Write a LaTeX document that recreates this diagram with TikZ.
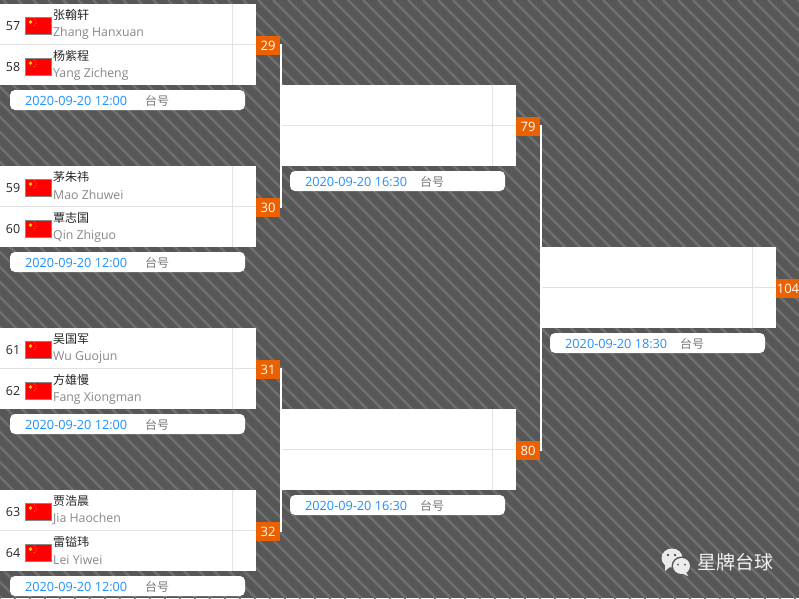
\documentclass[tikz,border=0pt]{standalone}
\usepackage{fontspec}
\setmainfont{Open Sans}
\newfontfamily\cjk{Noto Sans CJK SC}
\definecolor{bgdark}{HTML}{575757}
\definecolor{bgstripe}{HTML}{626262}
\definecolor{bgstripecore}{HTML}{757575}
\definecolor{orangebox}{HTML}{EB6100}
\definecolor{gridline}{HTML}{E2E2E2}
\definecolor{datecol}{HTML}{1E90FF}
\definecolor{greytext}{HTML}{888888}
\definecolor{tablecol}{HTML}{777777}
\definecolor{staryellow}{HTML}{FFD000}
\newcommand{\playerrow}[5]{% y-centre, seed, cjk name, pinyin, id
  \node[seedtext] (seed#5) at (13,#1) {#2};
  \node[flagbox] (flag#5) at (38.5,#1) {};
  \fill[staryellow] (30.5,#1-4) circle (1.9);
  \fill[staryellow!60!red] (34.5,#1-7) circle (.6) (36,#1-5) circle (.6) (36,#1-2.5) circle (.6) (34.5,#1-.5) circle (.6);
  \node[cjkname] (cn#5) at (53,#1-11) {#3};
  \node[pinyin] (py#5) at (53,#1+7.3) {#4};
}
\newcommand{\slotbox}[7]{% name, x0,y0,x1,y1, divider x, mid y
  \node[slot,minimum width=#4pt-#2pt,minimum height=#5pt-#3pt] (#1) at ({(#2+#4)/2},{(#3+#5)/2}) {};
  \draw[grid] (#6,#3) -- (#6,#5);
  \draw[grid] (#2,#7) -- (#4,#7);
}
\newcommand{\datepill}[6]{% name, x0, x1, y0, time, table offset
  \node[pill,minimum width=#3pt-#2pt] (#1) at ({(#2+#3)/2},#4+10) {};
  \node[datetext] (#1d) at (#2+15,#4+10.7) {2020-09-20 #5};
  \node[tabletext] (#1t) at (#2+#6,#4+10.5) {台号};
}
\tikzset{
  slot/.style={fill=white,draw=none,inner sep=0pt,outer sep=0pt},
  grid/.style={gridline,line width=1pt},
  seedtext/.style={font=\fontsize{12.5}{12.5}\selectfont,text=black!85,inner sep=0pt},
  flagbox/.style={fill=red,draw=greytext,line width=1pt,minimum width=26pt,minimum height=17pt,inner sep=0pt},
  cjkname/.style={font=\cjk\fontsize{12}{12}\selectfont,text=black!85,anchor=west,inner sep=0pt},
  pinyin/.style={font=\fontsize{12.3}{12.3}\selectfont,text=greytext,anchor=west,inner sep=0pt},
  pill/.style={fill=white,rounded corners=5pt,minimum height=20pt,inner sep=0pt,draw=none},
  datetext/.style={font=\fontsize{12.7}{12.7}\selectfont,text=datecol,anchor=west,inner sep=0pt},
  tabletext/.style={font=\cjk\fontsize{12}{12}\selectfont,text=tablecol,anchor=west,inner sep=0pt},
  matchno/.style={fill=orangebox,text=white,font=\fontsize{13}{13}\selectfont,minimum width=24pt,minimum height=19pt,inner sep=0pt,outer sep=0pt},
  wire/.style={white,line width=2pt},
}
\begin{document}
\begin{tikzpicture}[x=1pt,y=-1pt]
\useasboundingbox (0,0) rectangle (799,598);
\fill[bgdark] (0,0) rectangle (799,598);
\begin{scope}
\clip (0,0) rectangle (799,598);
\foreach \k in {-42,...,56} {
  \draw[bgstripe,line width=3.2pt] ({\k*15+3},0) -- ({\k*15+3+598},598);
  \draw[bgstripecore,line width=1.2pt] ({\k*15+3},0) -- ({\k*15+3+598},598);
}
\end{scope}
% round 1
\slotbox{s1}{0}{4}{256}{85}{232.5}{44.5}
\slotbox{s2}{0}{166}{256}{247}{232.5}{206.5}
\slotbox{s3}{0}{328}{256}{409}{232.5}{368.5}
\slotbox{s4}{0}{490}{256}{571}{232.5}{530.5}
% round 2
\slotbox{q1}{280}{85}{516}{166}{492.5}{125.5}
\slotbox{q2}{280}{409}{516}{490}{492.5}{449.5}
% round 3
\slotbox{f1}{540}{247}{776}{328}{752.5}{287.5}
% players
\playerrow{26}{57}{张翰轩}{Zhang Hanxuan}{a}
\playerrow{67}{58}{杨紫程}{Yang Zicheng}{b}
\playerrow{188}{59}{茅朱祎}{Mao Zhuwei}{c}
\playerrow{229}{60}{覃志国}{Qin Zhiguo}{d}
\playerrow{350}{61}{吴国军}{Wu Guojun}{e}
\playerrow{391}{62}{方雄慢}{Fang Xiongman}{f}
\playerrow{512}{63}{贾浩晨}{Jia Haochen}{g}
\playerrow{553}{64}{雷镒玮}{Lei Yiwei}{h}
% dates
\datepill{p1}{10}{245}{90}{12:00}{135}
\datepill{p2}{10}{245}{252}{12:00}{135}
\datepill{p3}{10}{245}{414}{12:00}{135}
\datepill{p4}{10}{245}{576}{12:00}{135}
\datepill{p5}{290}{505}{171}{16:30}{130}
\datepill{p6}{290}{505}{495}{16:30}{130}
\datepill{p7}{550}{765}{333}{18:30}{130}
% match numbers
\node[matchno] (m29) at (268,45.5) {29};
\node[matchno] (m30) at (268,207.5) {30};
\node[matchno] (m31) at (268,369.5) {31};
\node[matchno] (m32) at (268,531.5) {32};
\node[matchno] (m79) at (528,126.5) {79};
\node[matchno] (m80) at (528,450.5) {80};
\node[matchno] (m104) at (788,288.5) {104};
% connectors
\draw[wire] ([xshift=1pt,yshift=1.5pt]m29.east) -- ([xshift=1pt]m30.east);
\draw[wire] ([xshift=1pt,yshift=1.5pt]m31.east) -- ([xshift=1pt]m32.east);
\draw[wire] ([xshift=1pt,yshift=1.5pt]m79.east) -- ([xshift=1pt]m80.east);
% watermark
\fill[white!92!black] (672,558) ellipse (10.5 and 9.5);
\fill[white!92!black] (665,565) -- (665,571) -- (671,566) -- cycle;
\fill[bgdark] (681.5,566) ellipse (10 and 9.5);
\fill[white!92!black] (681.5,566) ellipse (8.5 and 8);
\fill[white!92!black] (686,572) -- (688,576) -- (681,573) -- cycle;
\fill[bgdark] (668,555) circle (1.3) (675,555) circle (1.3) (678,564.5) circle (1) (685,564.5) circle (1);
\node[font=\cjk\fontsize{19}{19}\selectfont,text=white!95!black,anchor=west,inner sep=0pt] (wm) at (697,562) {星牌台球};
\end{tikzpicture}
\end{document}
